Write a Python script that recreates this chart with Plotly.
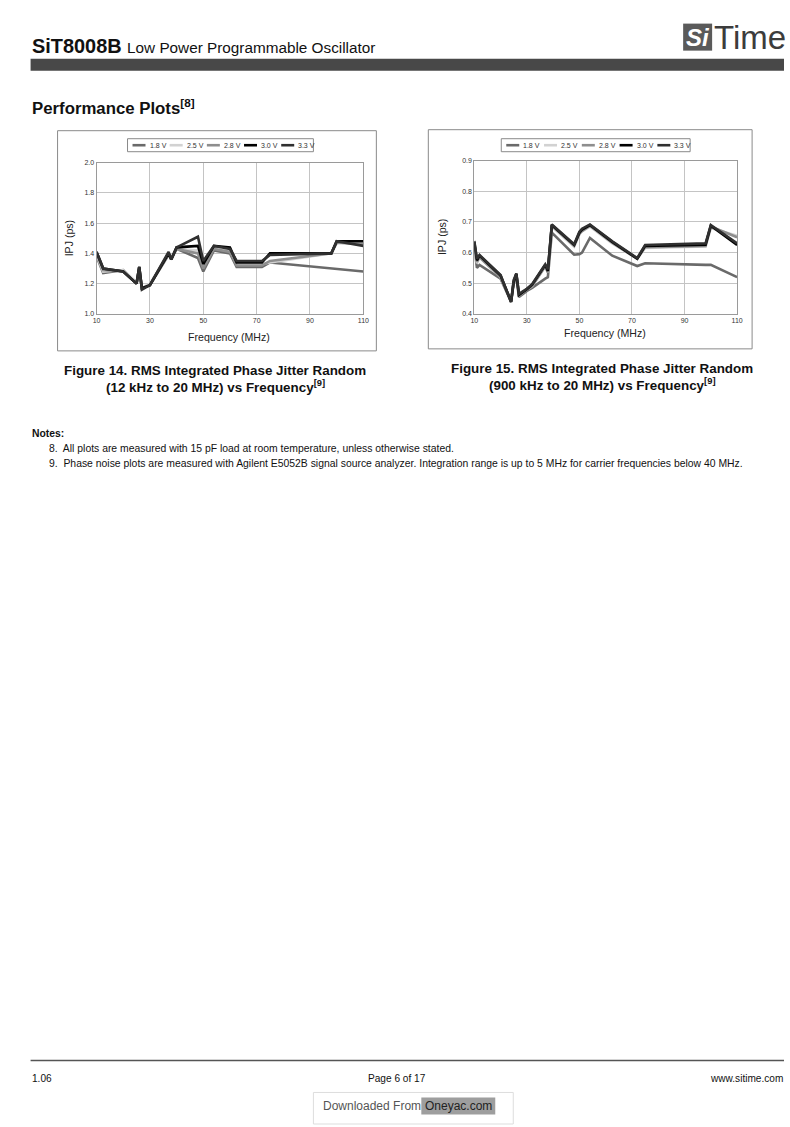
import plotly.graph_objects as go

W, H = 790, 1127

# ---------------- data ----------------
series_names = ["1.8 V", "2.5 V", "2.8 V", "3.0 V", "3.3 V"]
series_colors = ["#6a6a6a", "#d2d2d2", "#8e8e8e", "#000000", "#303030"]

# Figure 14: 12 kHz to 20 MHz
freq1 = [10, 12.5, 20, 25, 26, 27, 30, 37, 38, 40, 48, 50, 54, 60, 62.5, 72, 75, 98, 100, 110]
v18_1 = [1.38, 1.27, 1.29, 1.20, 1.30, 1.17, 1.19, 1.39, 1.37, 1.43, 1.37, 1.28, 1.42, 1.40, 1.31, 1.31, 1.34, 1.30, 1.30, 1.28]
v25_1 = [1.39, 1.28, 1.29, 1.21, 1.31, 1.17, 1.20, 1.40, 1.37, 1.43, 1.42, 1.31, 1.44, 1.42, 1.33, 1.33, 1.34, 1.40, 1.47, 1.47]
v28_1 = [1.40, 1.29, 1.28, 1.20, 1.31, 1.17, 1.19, 1.40, 1.36, 1.43, 1.40, 1.30, 1.43, 1.41, 1.32, 1.32, 1.35, 1.40, 1.47, 1.46]
v30_1 = [1.41, 1.30, 1.28, 1.20, 1.31, 1.17, 1.19, 1.40, 1.36, 1.44, 1.45, 1.33, 1.45, 1.44, 1.34, 1.34, 1.40, 1.40, 1.48, 1.48]
v33_1 = [1.41, 1.30, 1.28, 1.20, 1.31, 1.16, 1.19, 1.41, 1.36, 1.44, 1.51, 1.35, 1.45, 1.43, 1.35, 1.35, 1.39, 1.40, 1.48, 1.45]

# Figure 15: 900 kHz to 20 MHz
freq2 = [10, 11, 12, 20, 24, 25, 26, 27, 30, 32, 37, 38, 39.5, 48, 50, 51, 54, 62.5, 72, 75, 98, 100, 110]
v18_2 = [0.62, 0.55, 0.56, 0.515, 0.44, 0.50, 0.52, 0.455, 0.475, 0.485, 0.515, 0.52, 0.665, 0.593, 0.595, 0.60, 0.648, 0.59, 0.556, 0.565, 0.560, 0.560, 0.52]
v25_2 = [0.63, 0.565, 0.585, 0.52, 0.445, 0.51, 0.53, 0.46, 0.48, 0.49, 0.555, 0.535, 0.685, 0.62, 0.66, 0.67, 0.685, 0.63, 0.58, 0.615, 0.62, 0.68, 0.655]
v28_2 = [0.63, 0.57, 0.585, 0.52, 0.44, 0.505, 0.53, 0.46, 0.48, 0.49, 0.555, 0.535, 0.688, 0.622, 0.662, 0.67, 0.688, 0.632, 0.58, 0.618, 0.622, 0.685, 0.65]
v30_2 = [0.635, 0.575, 0.59, 0.525, 0.44, 0.505, 0.53, 0.462, 0.48, 0.495, 0.56, 0.54, 0.69, 0.625, 0.665, 0.675, 0.69, 0.635, 0.58, 0.622, 0.626, 0.688, 0.625]
v33_2 = [0.638, 0.58, 0.592, 0.527, 0.438, 0.51, 0.532, 0.465, 0.482, 0.497, 0.562, 0.545, 0.692, 0.627, 0.668, 0.678, 0.692, 0.637, 0.582, 0.625, 0.63, 0.69, 0.63]

x_ticks = [10, 30, 50, 70, 90, 110]
y_ticks1 = [1.0, 1.2, 1.4, 1.6, 1.8, 2.0]
y_ticks2 = [0.4, 0.5, 0.6, 0.7, 0.8, 0.9]

FONT = "Liberation Sans, Arial, Helvetica, sans-serif"


def X(px):
    v = (px - 3.4) / 0.988
    return min(max(v, 0), W) / W


def Y(py):
    v = (py - 4.4) / 0.993
    return 1 - min(max(v, 0), H) / H


def text(x, y, t, size, color="#111", anchor="left", **kw):
    d = dict(x=X(x), y=Y(y), xref="paper", yref="paper", text=t, showarrow=False,
             xanchor=anchor, yanchor="middle", borderpad=0,
             font=dict(size=size, color=color, family=FONT))
    d.update(kw)
    return d


fig = go.Figure()

charts = [
    dict(freq=freq1, vals=[v18_1, v25_1, v28_1, v30_1, v33_1], xa="x", ya="y",
         px=(96, 363), py=(163, 314), yr=(1.0, 2.0), yt=y_ticks1,
         box=(57, 131, 376, 351), leg=(127, 313, 139, 152),
         xt=(229, 337), yt_pos=(68, 238)),
    dict(freq=freq2, vals=[v18_2, v25_2, v28_2, v30_2, v33_2], xa="x2", ya="y2",
         px=(474, 737), py=(161, 314), yr=(0.4, 0.9), yt=y_ticks2,
         box=(428, 130, 752, 349), leg=(501, 690, 139, 152),
         xt=(605, 333), yt_pos=(441, 237)),
]

shapes = []
annotations = []

for ci, c in enumerate(charts):
    for name, col, vals in zip(series_names, series_colors, c["vals"]):
        fig.add_trace(go.Scatter(
            x=c["freq"], y=vals, mode="lines", name=name,
            line=dict(color=col, width=2.6), xaxis=c["xa"], yaxis=c["ya"],
            showlegend=False))
    sfx = "" if ci == 0 else "2"
    fig.layout["xaxis" + sfx] = dict(
        domain=[X(c["px"][0]), X(c["px"][1])], range=[10, 110],
        tickvals=x_ticks, ticks="", showgrid=True, gridcolor="#c4c4c4", gridwidth=1,
        showline=True, linecolor="#9a9a9a", linewidth=1, mirror=True,
        zeroline=False, tickfont=dict(size=7, color="#333", family=FONT),
        anchor="y" + sfx, fixedrange=True)
    fig.layout["yaxis" + sfx] = dict(
        domain=[Y(c["py"][1]), Y(c["py"][0])], range=list(c["yr"]),
        tickvals=c["yt"], tickformat=".1f", ticks="", showgrid=True,
        gridcolor="#c4c4c4", gridwidth=1,
        showline=True, linecolor="#9a9a9a", linewidth=1, mirror=True,
        zeroline=False, tickfont=dict(size=7, color="#333", family=FONT),
        anchor="x" + sfx, fixedrange=True)
    bx0, by0, bx1, by1 = c["box"]
    shapes.append(dict(type="rect", xref="paper", yref="paper",
                       x0=X(bx0), x1=X(bx1), y0=Y(by1), y1=Y(by0),
                       line=dict(color="#8a8a8a", width=1), fillcolor="rgba(0,0,0,0)",
                       layer="below"))
    lx0, lx1, ly0, ly1 = c["leg"]
    shapes.append(dict(type="rect", xref="paper", yref="paper",
                       x0=X(lx0), x1=X(lx1), y0=Y(ly1), y1=Y(ly0),
                       line=dict(color="#8a8a8a", width=1), fillcolor="white"))
    step = (lx1 - lx0) / 5.0
    lyc = (ly0 + ly1) / 2
    for k, (name, col) in enumerate(zip(series_names, series_colors)):
        sx = lx0 + 5 + k * step
        shapes.append(dict(type="line", xref="paper", yref="paper",
                           x0=X(sx), x1=X(sx + 13), y0=Y(lyc), y1=Y(lyc),
                           line=dict(color=col, width=2.6)))
        annotations.append(text(sx + 16, lyc, name, 7, color="#333"))
    annotations.append(text(c["xt"][0], c["xt"][1], "Frequency (MHz)", 10.6,
                            color="#222", anchor="center"))
    annotations.append(text(c["yt_pos"][0], c["yt_pos"][1], "IPJ (ps)", 10.6,
                            color="#222", anchor="center", textangle=-90))

# header
annotations.append(text(30, 46,
                        "<b>SiT8008B</b> <span style='font-size:15.3px'>Low Power Programmable Oscillator</span>",
                        19.9))
shapes.append(dict(type="rect", xref="paper", yref="paper", x0=X(30), x1=X(785),
                   y0=Y(71), y1=Y(59), line=dict(width=0), fillcolor="#484848"))
shapes.append(dict(type="rect", xref="paper", yref="paper", x0=X(683), x1=X(712),
                   y0=Y(51), y1=Y(24), line=dict(width=0), fillcolor="#5a5a5a"))
annotations.append(text(697.5, 38, "<b><i>Si</i></b>", 24, color="white", anchor="center"))
annotations.append(text(713, 38, "Time", 33, color="#3c3c3c"))

annotations.append(text(30, 107, "<b>Performance Plots<sup>[8]</sup></b>", 16.8))

cap = [
    (215, 371, "<b>Figure 14. RMS Integrated Phase Jitter Random</b>"),
    (215, 387, "<b>(12 kHz to 20 MHz) vs Frequency<sup>[9]</sup></b>"),
    (602, 369, "<b>Figure 15. RMS Integrated Phase Jitter Random</b>"),
    (602, 385, "<b>(900 kHz to 20 MHz) vs Frequency<sup>[9]</sup></b>"),
]
for cx, cy, t in cap:
    annotations.append(text(cx, cy, t, 13.4, anchor="center"))

annotations.append(text(30, 434, "<b>Notes:</b>", 10.4))
notes = [
    (449, "8.  All plots are measured with 15 pF load at room temperature, unless otherwise stated."),
    (464, "9.  Phase noise plots are measured with Agilent E5052B signal source analyzer. Integration range is up to 5 MHz for carrier frequencies below 40 MHz."),
]
for ny, t in notes:
    annotations.append(text(47, ny, t, 10.4))

# footer
shapes.append(dict(type="line", xref="paper", yref="paper", x0=X(30), x1=X(785),
                   y0=Y(1060), y1=Y(1060), line=dict(color="#555", width=1.5)))
for fx, anc, t in [(30, "left", "1.06"), (397, "center", "Page 6 of 17"), (785, "right", "www.sitime.com")]:
    annotations.append(text(fx, 1078, t, 10.1, anchor=anc))
shapes.append(dict(type="rect", xref="paper", yref="paper", x0=X(313), x1=X(513),
                   y0=Y(1127), y1=Y(1092), line=dict(color="#dddddd", width=1),
                   fillcolor="white"))
shapes.append(dict(type="rect", xref="paper", yref="paper", x0=X(421), x1=X(495),
                   y0=Y(1114), y1=Y(1097), line=dict(width=0), fillcolor="#9e9e9e"))
annotations.append(text(322, 1106, "Downloaded From", 12, color="#555"))
annotations.append(text(424, 1106, "Oneyac.com", 12, color="#222"))

fig.update_layout(
    width=W, height=H, margin=dict(l=0, r=0, t=0, b=0),
    paper_bgcolor="white", plot_bgcolor="white",
    shapes=shapes, annotations=annotations, showlegend=False,
    font=dict(family=FONT),
)

fig.write_html("out.html", config={"displayModeBar": False},
               post_script="document.body.style.margin='0';document.body.style.overflow='hidden';")
